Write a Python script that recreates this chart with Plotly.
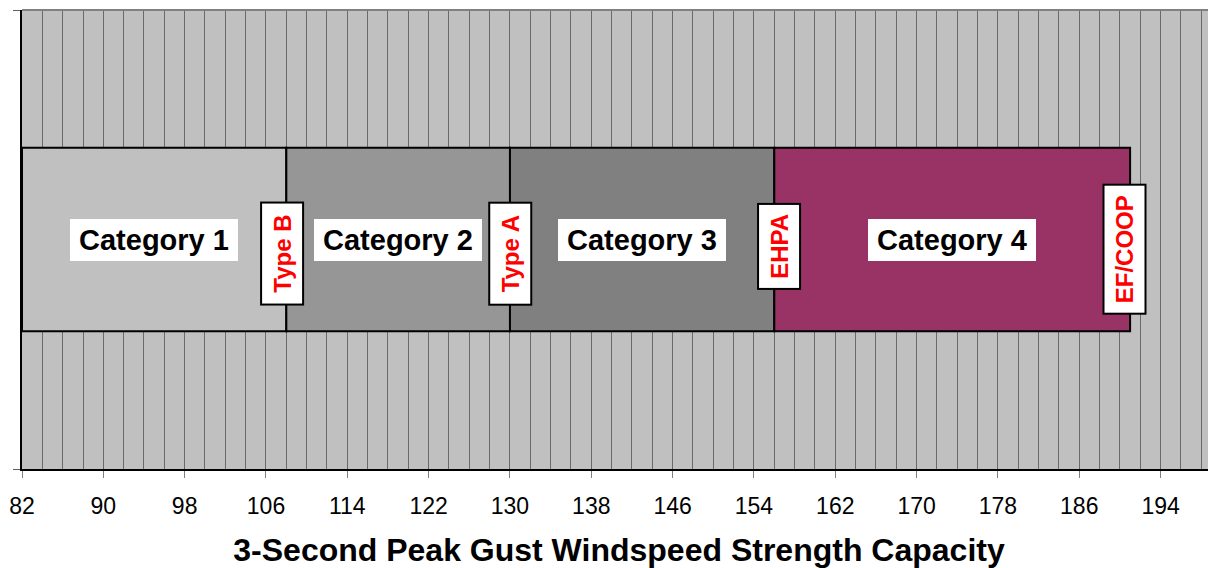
import plotly.graph_objects as go

# ---- data ----
categories = ["Category 1", "Category 2", "Category 3", "Category 4"]
boundaries = [82, 108, 130, 156, 191]          # windspeed limits of each category
cat_colors = ["#C0C0C0", "#969696", "#808080", "#993366"]
markers = ["Type B", "Type A", "EHPA", "EF/COOP"]  # placed at boundaries[1:]
tick_vals = [82, 90, 98, 106, 114, 122, 130, 138, 146, 154, 162, 170, 178, 186, 194]
x_title = "3-Second Peak Gust Windspeed Strength Capacity"

FONT = "Liberation Sans, Arial, sans-serif"

starts = boundaries[:-1]
lengths = [b - a for a, b in zip(boundaries[:-1], boundaries[1:])]

fig = go.Figure()
for name, s, l, c in zip(categories, starts, lengths, cat_colors):
    fig.add_trace(go.Bar(
        y=[0.5], x=[l], base=[s], orientation="h", width=0.4,
        marker=dict(color=c, line=dict(color="black", width=2)),
        name=name, showlegend=False, hoverinfo="skip"))

# category labels
for name, s, l in zip(categories, starts, lengths):
    fig.add_annotation(
        x=s + l / 2, y=0.5, xref="x", yref="y", text=name, showarrow=False,
        font=dict(family=FONT, size=29, color="black", weight="bold"),
        bgcolor="white", borderwidth=0, borderpad=0, width=168, height=42)

# boundary marker labels (styles: box size, pixel offsets)
mk_box = [100, 100, 83, 127]
mk_y = [0.469, 0.469, 0.486, 0.478]
mk_dx = [-4.5, 0, 4.7, -6]
for text, xb, w, yy, dx in zip(markers, boundaries[1:], mk_box, mk_y, mk_dx):
    fig.add_annotation(
        x=xb, y=yy, xref="x", yref="y", text=text, showarrow=False,
        textangle=-90, xshift=dx,
        font=dict(family=FONT, size=24, color="red", weight="bold"),
        bgcolor="white", bordercolor="black", borderwidth=2, borderpad=0,
        width=w, height=40)

# top border of plot
fig.add_shape(type="line", xref="paper", yref="paper", x0=0, x1=1, y0=1, y1=1,
              line=dict(color="#808080", width=2), layer="above")

fig.update_layout(
    width=1208, height=560,
    margin=dict(l=14, r=0, t=2, b=99),
    plot_bgcolor="#C0C0C0", paper_bgcolor="white",
    barmode="overlay",
    font=dict(family=FONT, color="black"),
    xaxis=dict(
        range=[82, 199.45], tickvals=tick_vals, ticks="outside", ticklen=7,
        tickcolor="#808080", tickwidth=1, ticklabelstandoff=8,
        tickfont=dict(family=FONT, size=23, color="black"),
        showgrid=True, gridcolor="#6a6a6a", gridwidth=1,
        minor=dict(dtick=2, tick0=82, showgrid=True, gridcolor="#6a6a6a", gridwidth=1, ticks=""),
        showline=True, linecolor="black", linewidth=2,
        zeroline=False,
        title=dict(text=x_title, font=dict(family=FONT, size=32, color="black", weight="bold"),
                   standoff=21),
    ),
    yaxis=dict(
        range=[0, 1], tickvals=[0, 1], ticks="outside", ticklen=7, tickcolor="#606060",
        showticklabels=False, showgrid=False, zeroline=False,
        showline=True, linecolor="black", linewidth=2, fixedrange=True,
    ),
)

fig.write_html("out.html")
